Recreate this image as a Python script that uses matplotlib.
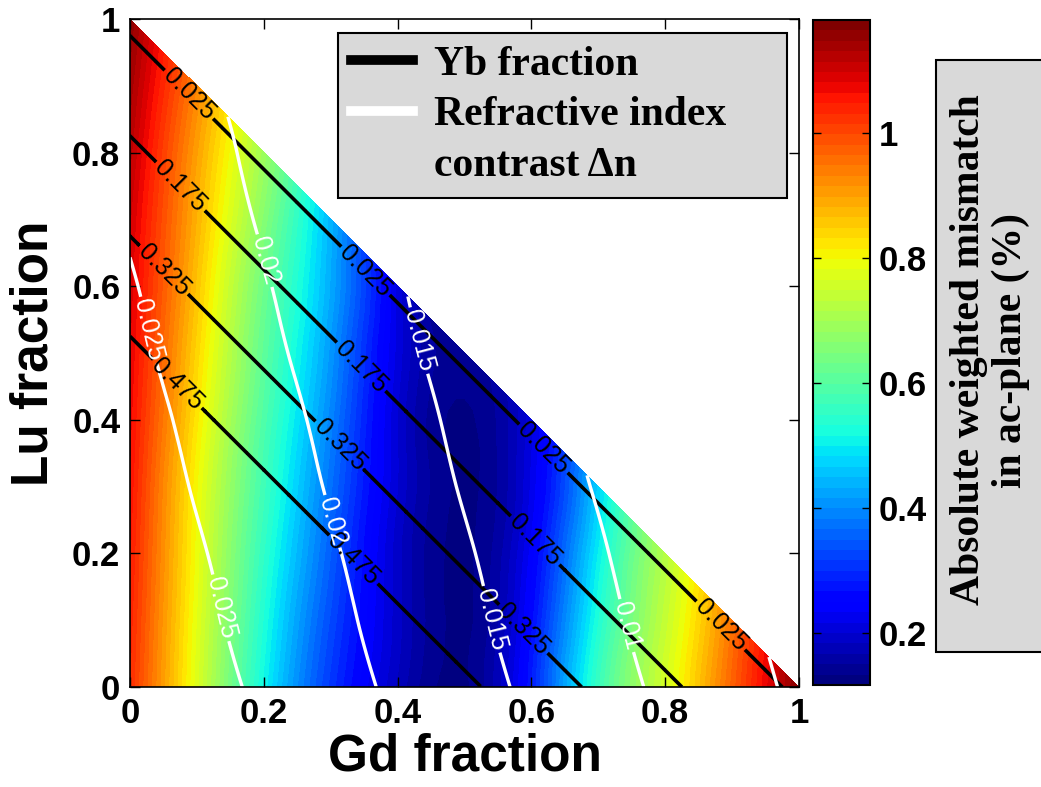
import matplotlib

matplotlib.use("Agg")
import matplotlib.pyplot as plt
import matplotlib.tri as mtri
import numpy as np
from matplotlib.cm import ScalarMappable
from matplotlib.colors import Normalize
from matplotlib.lines import Line2D
from matplotlib.patches import Rectangle
from matplotlib.ticker import FuncFormatter

# Composition grid: each row is one Lu fraction, entries step through Gd
# fraction from 0 in increments of GRID_STEP up to the Gd + Lu = 1 edge.
GRID_STEP = 0.1
LU_ROWS = [0.0, 0.1, 0.2, 0.3, 0.4, 0.5, 0.6, 0.7, 0.8, 0.9, 1.0]

# absolute weighted lattice mismatch in the ac-plane (%)
MISMATCH = [
    [1.03, 0.77, 0.51, 0.31, 0.18, 0.13, 0.28, 0.56, 0.76, 0.97, 1.17],
    [1.04, 0.78, 0.53, 0.33, 0.19, 0.13, 0.26, 0.53, 0.74, 0.95],
    [1.05, 0.79, 0.55, 0.35, 0.19, 0.13, 0.24, 0.50, 0.72],
    [1.06, 0.80, 0.57, 0.37, 0.20, 0.13, 0.22, 0.47],
    [1.07, 0.82, 0.59, 0.39, 0.20, 0.13, 0.21],
    [1.08, 0.84, 0.61, 0.41, 0.21, 0.14],
    [1.09, 0.86, 0.63, 0.43, 0.21],
    [1.10, 0.88, 0.66, 0.44],
    [1.12, 0.90, 0.69],
    [1.14, 0.93],
    [1.16],
]

# refractive index contrast to the substrate
DELTA_N = [
    [0.0292, 0.0267, 0.0242, 0.0217, 0.0192, 0.0167, 0.0142, 0.0117, 0.0092, 0.0067, 0.0042],
    [0.0285, 0.0260, 0.0235, 0.0210, 0.0185, 0.0160, 0.0135, 0.0110, 0.0085, 0.0060],
    [0.0279, 0.0254, 0.0229, 0.0204, 0.0179, 0.0154, 0.0129, 0.0104, 0.0079],
    [0.0272, 0.0247, 0.0222, 0.0197, 0.0172, 0.0147, 0.0122, 0.0097],
    [0.0266, 0.0241, 0.0216, 0.0191, 0.0166, 0.0141, 0.0116],
    [0.0259, 0.0234, 0.0209, 0.0184, 0.0159, 0.0134],
    [0.0253, 0.0228, 0.0203, 0.0178, 0.0153],
    [0.0246, 0.0221, 0.0196, 0.0171],
    [0.0240, 0.0215, 0.0190],
    [0.0233, 0.0208],
    [0.0227],
]

# Yb fraction (remainder of the Gd/Lu/Yb composition)
YB = [
    [1.0, 0.9, 0.8, 0.7, 0.6, 0.5, 0.4, 0.3, 0.2, 0.1, 0.0],
    [0.9, 0.8, 0.7, 0.6, 0.5, 0.4, 0.3, 0.2, 0.1, 0.0],
    [0.8, 0.7, 0.6, 0.5, 0.4, 0.3, 0.2, 0.1, 0.0],
    [0.7, 0.6, 0.5, 0.4, 0.3, 0.2, 0.1, 0.0],
    [0.6, 0.5, 0.4, 0.3, 0.2, 0.1, 0.0],
    [0.5, 0.4, 0.3, 0.2, 0.1, 0.0],
    [0.4, 0.3, 0.2, 0.1, 0.0],
    [0.3, 0.2, 0.1, 0.0],
    [0.2, 0.1, 0.0],
    [0.1, 0.0],
    [0.0],
]

YB_LEVELS = [0.025, 0.175, 0.325, 0.475]
DN_LEVELS = [0.005, 0.01, 0.015, 0.02, 0.025]
MISMATCH_MIN, MISMATCH_MAX = 0.117, 1.181
CBAR_TICKS = [0.2, 0.4, 0.6, 0.8, 1.0]
AXIS_TICKS = [0, 0.2, 0.4, 0.6, 0.8, 1.0]

SANS = ["Liberation Sans", "DejaVu Sans"]
SERIF = ["Liberation Serif", "DejaVu Serif"]
plt.rcParams["font.family"] = SANS
plt.rcParams["font.weight"] = "bold"
plt.rcParams["axes.labelweight"] = "bold"

W, H = 1041, 787


def fmt_g(v, pos=None):
    return f"{v:g}"


def flatten_grid():
    gd, lu, mis, dn, yb = [], [], [], [], []
    for lu_val, m_row, d_row, y_row in zip(LU_ROWS, MISMATCH, DELTA_N, YB):
        for j, (m, d, y) in enumerate(zip(m_row, d_row, y_row)):
            gd.append(j * GRID_STEP)
            lu.append(lu_val)
            mis.append(m)
            dn.append(d)
            yb.append(y)
    return [np.array(a) for a in (gd, lu, mis, dn, yb)]


gd, lu, mis, dn, yb = flatten_grid()
tri = mtri.Triangulation(gd, lu)
refiner = mtri.UniformTriRefiner(tri)
tri_f, mis_f = refiner.refine_field(mis, subdiv=3)
_, dn_f = refiner.refine_field(dn, subdiv=3)
_, yb_f = refiner.refine_field(yb, subdiv=3)

jet64 = plt.get_cmap("jet", 64)

fig = plt.figure(figsize=(W / 100, H / 100), dpi=100)
ax = fig.add_axes([130 / W, 1 - 687 / H, 669 / W, 668 / H])

ax.tricontourf(tri_f, mis_f, levels=np.linspace(MISMATCH_MIN, MISMATCH_MAX, 65),
               cmap=jet64, extend="both")

cs_yb = ax.tricontour(tri_f, yb_f, levels=YB_LEVELS, colors="k", linewidths=2.6)
yb_labels = ax.clabel(cs_yb, fmt=fmt_g, fontsize=18, inline_spacing=3, manual=[
    (0.088, 0.887), (0.351, 0.622), (0.616, 0.355), (0.88, 0.089),
    (0.073, 0.747), (0.337, 0.471), (0.601, 0.215),
    (0.048, 0.622), (0.312, 0.36), (0.581, 0.08),
    (0.067, 0.45), (0.337, 0.194),
])

cs_dn = ax.tricontour(tri_f, dn_f, levels=DN_LEVELS, colors="w", linewidths=2.4)
dn_labels = ax.clabel(cs_dn, fmt=fmt_g, fontsize=18, inline_spacing=3, manual=[
    (0.018, 0.532), (0.138, 0.119), (0.197, 0.637), (0.292, 0.245),
    (0.422, 0.516), (0.531, 0.099), (0.731, 0.089),
])
for t in list(yb_labels) + list(dn_labels):
    t.set_fontweight("normal")

ax.set_xlim(0, 1)
ax.set_ylim(0, 1)
ax.set_xticks(AXIS_TICKS)
ax.set_yticks(AXIS_TICKS)
ax.xaxis.set_major_formatter(FuncFormatter(fmt_g))
ax.yaxis.set_major_formatter(FuncFormatter(fmt_g))
ax.tick_params(direction="in", length=7, width=1, top=True, right=True,
               labelsize=25, pad=7)
for s in ax.spines.values():
    s.set_linewidth(1.2)
ax.set_xlabel("Gd fraction", fontsize=37, labelpad=2)
ax.set_ylabel("Lu fraction", fontsize=37, labelpad=10)

# the second label wraps onto a handle-less third row
handles = [
    Line2D([], [], color="k", lw=7),
    Line2D([], [], color="w", lw=7),
    Line2D([], [], color="none"),
]
leg = ax.legend(handles, ["Yb fraction", "Refractive index", "contrast \u0394n"],
                loc="upper left", mode="expand",
                bbox_to_anchor=(338 / W, 1 - 197 / H, 449 / W, 164 / H),
                bbox_transform=fig.transFigure, borderaxespad=0,
                prop={"family": SERIF, "weight": "bold", "size": 30},
                handlelength=1.5, handletextpad=0.5, labelspacing=0.3,
                borderpad=0.3, fancybox=False, framealpha=1,
                facecolor="#d9d9d9", edgecolor="k")
leg.get_frame().set_linewidth(1.5)

cax = fig.add_axes([813 / W, 1 - 685 / H, 57 / W, 665 / H])
sm = ScalarMappable(norm=Normalize(MISMATCH_MIN, MISMATCH_MAX), cmap=jet64)
cb = fig.colorbar(sm, cax=cax, ticks=CBAR_TICKS, format=FuncFormatter(fmt_g))
cb.ax.tick_params(direction="in", length=6, width=1, left=True, right=True,
                  labelsize=25, pad=6)
cb.outline.set_linewidth(1.5)

fig.add_artist(Rectangle((936 / W, 1 - 652 / H), 0.2, 592 / H,
                         transform=fig.transFigure, facecolor="#d9d9d9",
                         edgecolor="k", linewidth=1.5, clip_on=False))
fig.text(990 / W, 1 - 350 / H, "Absolute weighted mismatch\nin ac-plane (%)",
         rotation=90, ha="center", va="center", multialignment="center",
         family=SERIF, size=30, weight="bold", linespacing=1.15)

fig.savefig("out.png", dpi=100)
